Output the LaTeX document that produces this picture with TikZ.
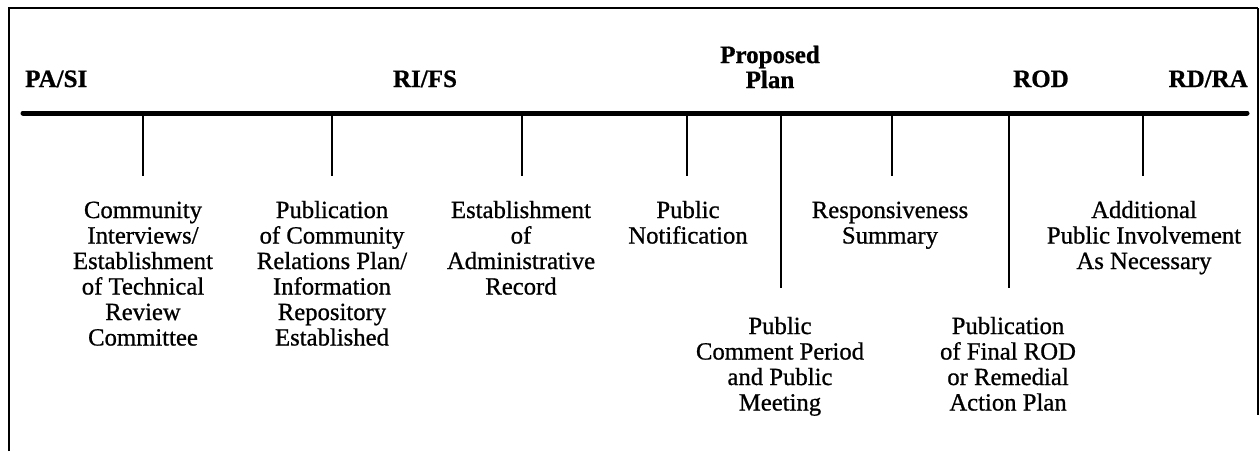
\documentclass[tikz,border=0pt]{standalone}
\usepackage{fontspec}
\setmainfont{Liberation Serif}
\newfontfamily\evfont[FakeBold=0.8]{Liberation Serif}
\newfontfamily\phfont[FakeBold=0.8]{Liberation Serif Bold}
\begin{document}
\begin{tikzpicture}[x=1pt,y=-1pt,
  frame/.style={line width=2pt},
  thinframe/.style={line width=1.2pt},
  axis/.style={line width=5pt, line cap=round},
  tickline/.style={line width=2.5pt},
  phase/.style={font=\phfont\fontsize{25}{25}\selectfont, inner sep=0pt, anchor=base, align=center},
  event/.style={font=\evfont\fontsize{24.7}{25.5}\selectfont, align=center, inner sep=0pt, anchor=base}]
\useasboundingbox (0,0) rectangle (1260,451);
% frame
\coordinate (tl) at (9,8);
\coordinate (tr) at (1258,8);
\coordinate (bl) at (9,451);
\coordinate (br) at (1258,415);
\draw[frame] (bl) -- (tl) -- (tr);
\draw[thinframe] (tr) -- (br);
% axis
\coordinate (a0) at (23,113);
\coordinate (a1) at (1247,113);
\draw[axis] (a0) -- (a1);
% phase labels (anchor = baseline of last line)
\node[phase, anchor=base west] (pasi) at (25,87) {PA/SI};
\node[phase] (rifs) at (425,87) {RI/FS};
\node[phase] (pp) at (770,88) {Proposed\\Plan};
\node[phase] (rod) at (1041,87) {ROD};
\node[phase, anchor=base east] (rdra) at (1248,87) {RD/RA};
% tick coordinates
\foreach \n/\x in {1/143,2/332,3/522,4/687,6/892,8/1143}{
  \coordinate (s\n) at (\x,113);
  \coordinate (e\n) at (\x,176);
}
\foreach \n/\x in {5/781,7/1009}{
  \coordinate (s\n) at (\x,113);
  \coordinate (e\n) at (\x,288);
}
\foreach \n in {1,...,8}{ \draw[tickline] (s\n) -- (e\n); }
% event labels (anchor = baseline of last line)
\node[event] (ev1) at (143,345.5) {Community\\Interviews/\\Establishment\\of Technical\\Review\\Committee};
\node[event] (ev2) at (332,345.5) {Publication\\of Community\\Relations Plan/\\Information\\Repository\\Established};
\node[event] (ev3) at (521,294.5) {Establishment\\of\\Administrative\\Record};
\node[event] (ev4) at (688,243.5) {Public\\Notification};
\node[event] (ev6) at (890,243.5) {Responsiveness\\Summary};
\node[event] (ev8) at (1144,269) {Additional\\Public Involvement\\As Necessary};
\node[event] (ev5) at (780,410.5) {Public\\Comment Period\\and Public\\Meeting};
\node[event] (ev7) at (1008,410.5) {Publication\\of Final ROD\\or Remedial\\Action Plan};
\end{tikzpicture}
\end{document}
